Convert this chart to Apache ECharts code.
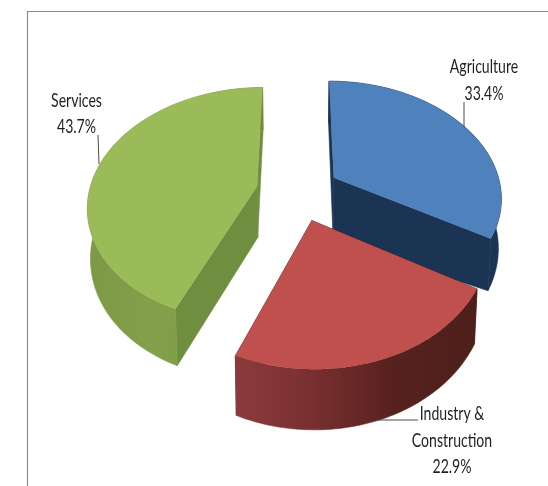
<!DOCTYPE html>
<html>
<head>
<meta charset="utf-8">
<style>html,body{margin:0;padding:0;background:#fff}#chart{width:548px;height:486px}</style>
<script src="https://cdn.jsdelivr.net/npm/echarts@6/dist/echarts.min.js"></script>
</head>
<body>
<div id="chart"></div>
<script>
// Share of each sector, clockwise from twelve o'clock
const categories = ['Agriculture', 'Industry &\nConstruction', 'Services'];
const shares = [33.4, 22.9, 43.7];

const faceColors = ['#4f81bd', '#bf504d', '#9bbb59'];
const cutColors = ['#1b3454', '#5a2320', '#708e3f'];
const rimStops = [
  [[0, '#1b3454'], [1, '#1b3454']],
  [[0, '#8c3b3c'], [0.3, '#7a3031'], [0.65, '#57221e'], [1, '#4d1f1b']],
  [[0, '#7c9946'], [0.4, '#84a04d'], [0.75, '#7a9743'], [1, '#6f8b3d']]
];

// Label placement and leader lines
const labelAnchors = [[484, 80.5], [452, 440.5], [76.5, 114]];
const leaders = [[[464, 102], [464, 127]], [[418, 420], [376, 420]], [[98, 135], [99, 164]]];

// Tilted-disc projection; innerDepth stretches the cut faces at the slice centre
const view = { cx: 298, cy: 192, rx: 168, ry: 115.8, tilt: 0.155, explode: 0.25, depth: 49, shrink: 0.985 };
const innerDepth = [1.3, 1, 1.05];

const TAU = Math.PI * 2;
const total = shares.reduce((a, b) => a + b, 0);

function project(X, Y, depthScale) {
  const w = 1 + view.tilt * Y;
  const k = depthScale ? view.shrink : 1;
  return [
    view.cx + k * view.rx * X / w,
    view.cy - view.ry * Y / w + depthScale * view.depth / w
  ];
}

function sliceGeometry(index) {
  const before = shares.slice(0, index).reduce((a, b) => a + b, 0);
  const a0 = before / total * TAU;
  const a1 = (before + shares[index]) / total * TAU;
  const mid = (a0 + a1) / 2;
  const ox = view.explode * Math.sin(mid);
  const oy = view.explode * Math.cos(mid);
  const rim = [];
  const steps = 72;
  for (let i = 0; i <= steps; i++) {
    const t = a0 + (a1 - a0) * i / steps;
    rim.push([ox + Math.sin(t), oy + Math.cos(t)]);
  }
  return { apex: [ox, oy], rim };
}

function renderSlice(params, api) {
  const index = params.dataIndex;
  const { apex, rim } = sliceGeometry(index);
  const upper = rim.map(p => project(p[0], p[1], 0));
  const lower = rim.map(p => project(p[0], p[1], 1));
  const apexUp = project(apex[0], apex[1], 0);
  const apexLow = project(apex[0], apex[1], innerDepth[index]);
  const last = rim.length - 1;
  const children = [];

  const wall = (points, fill) => ({
    type: 'polygon',
    shape: { points },
    style: { fill, stroke: fill, lineWidth: 0.6 },
    silent: true
  });

  // Cut faces first, then the outer rim, then the top
  children.push(wall([upper[0], apexUp, apexLow, lower[0]], cutColors[index]));
  children.push(wall([upper[last], apexUp, apexLow, lower[last]], cutColors[index]));
  children.push(wall(upper.concat(lower.slice().reverse()), new echarts.graphic.LinearGradient(
    0, 0, 1, 0, rimStops[index].map(s => ({ offset: s[0], color: s[1] }))
  )));
  children.push({
    type: 'polygon',
    shape: { points: [apexUp].concat(upper) },
    style: { fill: faceColors[index] },
    silent: true
  });

  // Leader line and label
  children.push({
    type: 'polyline',
    shape: { points: leaders[index] },
    style: { fill: 'none', stroke: '#4a4a4a', lineWidth: 1 },
    silent: true
  });
  children.push({
    type: 'text',
    x: labelAnchors[index][0],
    y: labelAnchors[index][1],
    scaleX: 0.74,
    silent: true,
    style: {
      text: api.value(0) + '\n' + api.value(1).toFixed(1) + '%',
      align: 'center',
      verticalAlign: 'middle',
      fill: '#1f1f1f',
      font: '19px Lato',
      lineHeight: 26.5
    }
  });
  return { type: 'group', children };
}

const chart = echarts.init(document.getElementById('chart'), null, { renderer: 'canvas' });
chart.setOption({
  animation: false,
  backgroundColor: '#ffffff',
  graphic: [{
    type: 'polyline',
    shape: { points: [[27.5, 486], [27.5, 11.5], [548, 11.5]] },
    style: { fill: 'none', stroke: '#8c8c8c', lineWidth: 1.2 },
    silent: true
  }],
  series: [{
    type: 'custom',
    coordinateSystem: 'none',
    renderItem: renderSlice,
    dimensions: ['sector', 'share'],
    data: categories.map((c, i) => [c, shares[i]])
  }]
});
</script>
</body>
</html>
